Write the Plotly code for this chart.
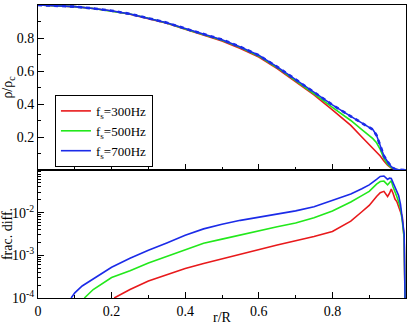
import plotly.graph_objects as go

# density profiles rho/rho_c vs r/R
r_top = [0, 0.05, 0.1, 0.15, 0.2, 0.25, 0.3, 0.35, 0.4, 0.45, 0.5, 0.55, 0.6, 0.65, 0.7,
         0.75, 0.8, 0.85, 0.88, 0.9, 0.91, 0.92, 0.93, 0.94, 0.95, 0.96, 0.97, 0.98, 1.0]
rho_300 = [1, 0.997, 0.99, 0.979, 0.964, 0.944, 0.919, 0.89, 0.853, 0.817, 0.782, 0.737, 0.685,
           0.615, 0.535, 0.455, 0.365, 0.27, 0.2, 0.155, 0.135, 0.11, 0.085, 0.055, 0.03,
           0.012, 0.004, 0.001, 0]
rho_500 = [1, 0.997, 0.99, 0.979, 0.964, 0.945, 0.92, 0.891, 0.855, 0.82, 0.786, 0.742, 0.69,
           0.62, 0.542, 0.462, 0.38, 0.3, 0.245, 0.21, 0.19, 0.165, 0.125, 0.07, 0.035,
           0.015, 0.005, 0.001, 0]
rho_700 = [1, 0.997, 0.99, 0.979, 0.965, 0.946, 0.921, 0.893, 0.857, 0.823, 0.79, 0.746, 0.695,
           0.625, 0.548, 0.47, 0.395, 0.325, 0.285, 0.262, 0.245, 0.21, 0.15, 0.085, 0.05,
           0.02, 0.005, 0.001, 0]

# fractional differences
r_diff_tail = [0.88, 0.9, 0.92, 0.93, 0.94, 0.945, 0.95, 0.955, 0.96, 0.965, 0.97, 0.975,
               0.98, 0.985, 0.99, 0.995, 0.999]
r_700 = [0.09, 0.1, 0.12, 0.15, 0.2, 0.25, 0.3, 0.35, 0.4, 0.45, 0.5, 0.55, 0.6, 0.65, 0.7,
         0.75, 0.8, 0.85] + r_diff_tail
d_700 = [1.0e-4, 1.32e-4, 1.91e-4, 2.82e-4, 5.25e-4, 8.51e-4, 1.32e-3, 1.95e-3, 2.95e-3,
         4.17e-3, 5.37e-3, 6.61e-3, 7.94e-3, 9.33e-3, 1.10e-2, 1.38e-2, 1.91e-2, 2.75e-2,
         3.63e-2, 4.47e-2, 6.03e-2, 7.08e-2, 7.24e-2, 6.76e-2, 6.03e-2, 6.46e-2, 6.31e-2,
         5.01e-2, 3.98e-2, 3.39e-2, 2.51e-2, 1.58e-2, 7.94e-3, 3.16e-3, 1.0e-5]
r_500 = [0.126, 0.15, 0.2, 0.25, 0.3, 0.35, 0.4, 0.45, 0.5, 0.55, 0.6, 0.65, 0.7, 0.75, 0.8,
         0.85] + r_diff_tail
d_500 = [1.0e-4, 1.58e-4, 3.02e-4, 4.37e-4, 6.61e-4, 9.55e-4, 1.35e-3, 1.91e-3, 2.40e-3,
         3.02e-3, 3.80e-3, 4.68e-3, 5.75e-3, 7.59e-3, 1.10e-2, 1.78e-2, 2.51e-2, 3.16e-2,
         4.68e-2, 5.37e-2, 5.50e-2, 5.01e-2, 4.47e-2, 5.01e-2, 5.62e-2, 3.98e-2, 3.16e-2,
         2.40e-2, 1.78e-2, 1.26e-2, 6.31e-3, 2.51e-3, 1.0e-5]
r_300 = [0.207, 0.25, 0.3, 0.35, 0.4, 0.45, 0.5, 0.55, 0.6, 0.65, 0.7, 0.75, 0.8,
         0.85] + r_diff_tail
d_300 = [1.0e-4, 1.58e-4, 2.51e-4, 3.55e-4, 4.90e-4, 6.46e-4, 8.32e-4, 1.07e-3, 1.38e-3,
         1.74e-3, 2.19e-3, 2.75e-3, 3.63e-3, 6.31e-3, 1.05e-2, 1.48e-2, 2.40e-2, 2.95e-2,
         3.16e-2, 2.82e-2, 2.40e-2, 2.82e-2, 3.55e-2, 2.82e-2, 2.09e-2, 1.82e-2, 1.41e-2,
         1.12e-2, 7.94e-3, 2.51e-3, 1.0e-5]

names = ["f<sub>s</sub>=300Hz", "f<sub>s</sub>=500Hz", "f<sub>s</sub>=700Hz"]
colors = ["#e8191b", "#22e81b", "#1b2be8"]

fig = go.Figure()
for rho, name, c in zip([rho_300, rho_500, rho_700], names, colors):
    fig.add_trace(go.Scatter(x=r_top, y=rho, name=name, mode="lines",
                             line=dict(color=c, width=1.6), xaxis="x2", yaxis="y2"))
fig.add_trace(go.Scatter(x=r_top, y=rho_700, mode="lines", showlegend=False,
                         line=dict(color=colors[2], width=2.6, dash="4px,4px"),
                         xaxis="x2", yaxis="y2"))
for rr, dd, c in zip([r_300, r_500, r_700], [d_300, d_500, d_700], colors):
    fig.add_trace(go.Scatter(x=rr, y=dd, mode="lines", showlegend=False,
                             line=dict(color=c, width=1.6), xaxis="x", yaxis="y"))

font = dict(family="Liberation Serif", size=14, color="black")
axis_common = dict(showline=True, linecolor="black", linewidth=1, mirror=True,
                   ticks="inside", ticklen=6, tickcolor="black", showgrid=False,
                   zeroline=False, tickfont=font, automargin=False)

split = 128 / 293
minor_log = [k * 10 ** e for e in (-4, -3, -2) for k in range(2, 10)]

fig.update_layout(
    width=409, height=325,
    margin=dict(l=38, r=3, t=5, b=27),
    plot_bgcolor="white", paper_bgcolor="white",
    font=font,
    xaxis=dict(range=[0, 1], tickvals=[0, 0.2, 0.4, 0.6, 0.8, 1],
               ticktext=["0", "0.2", "0.4", "0.6", "0.8", "1"],
               minor=dict(ticks="inside", ticklen=3, dtick=0.1, tickcolor="black"),
               title=dict(text="r/R", font=font, standoff=0), anchor="y",
               **axis_common),
    xaxis2=dict(range=[0, 1], anchor="y2", showticklabels=False,
                tickvals=[0, 0.2, 0.4, 0.6, 0.8, 1],
                minor=dict(ticks="inside", ticklen=3, dtick=0.1, tickcolor="black"),
                **axis_common),
    yaxis=dict(type="log", range=[-4, -1], domain=[0, split],
               tickvals=[1e-4, 1e-3, 1e-2],
               ticktext=["10<sup>-4</sup>", "10<sup>-3</sup>", "10<sup>-2</sup>"],
               minor=dict(ticks="inside", ticklen=3, tickvals=minor_log, tickcolor="black"),
               title=dict(text="frac. diff.", font=font, standoff=4), anchor="x",
               **axis_common),
    yaxis2=dict(range=[0, 1], domain=[split, 1], anchor="x2",
                tickvals=[0.2, 0.4, 0.6, 0.8, 1], ticktext=["0.2", "0.4", "0.6", "0.8", "1"],
                minor=dict(ticks="inside", ticklen=3, dtick=0.1, tickcolor="black"),
                title=dict(text="ρ/ρ<sub>c</sub>", font=font, standoff=4),
                **axis_common),
    legend=dict(x=0.046, y=0.693, xanchor="left", yanchor="top",
                bordercolor="black", borderwidth=1, bgcolor="white",
                font=dict(family="Liberation Serif", size=13, color="black"),
                tracegroupgap=0, itemwidth=30),
)

fig.write_html("out.html", config={"displayModeBar": False},
               post_script="document.body.style.margin='0';")
